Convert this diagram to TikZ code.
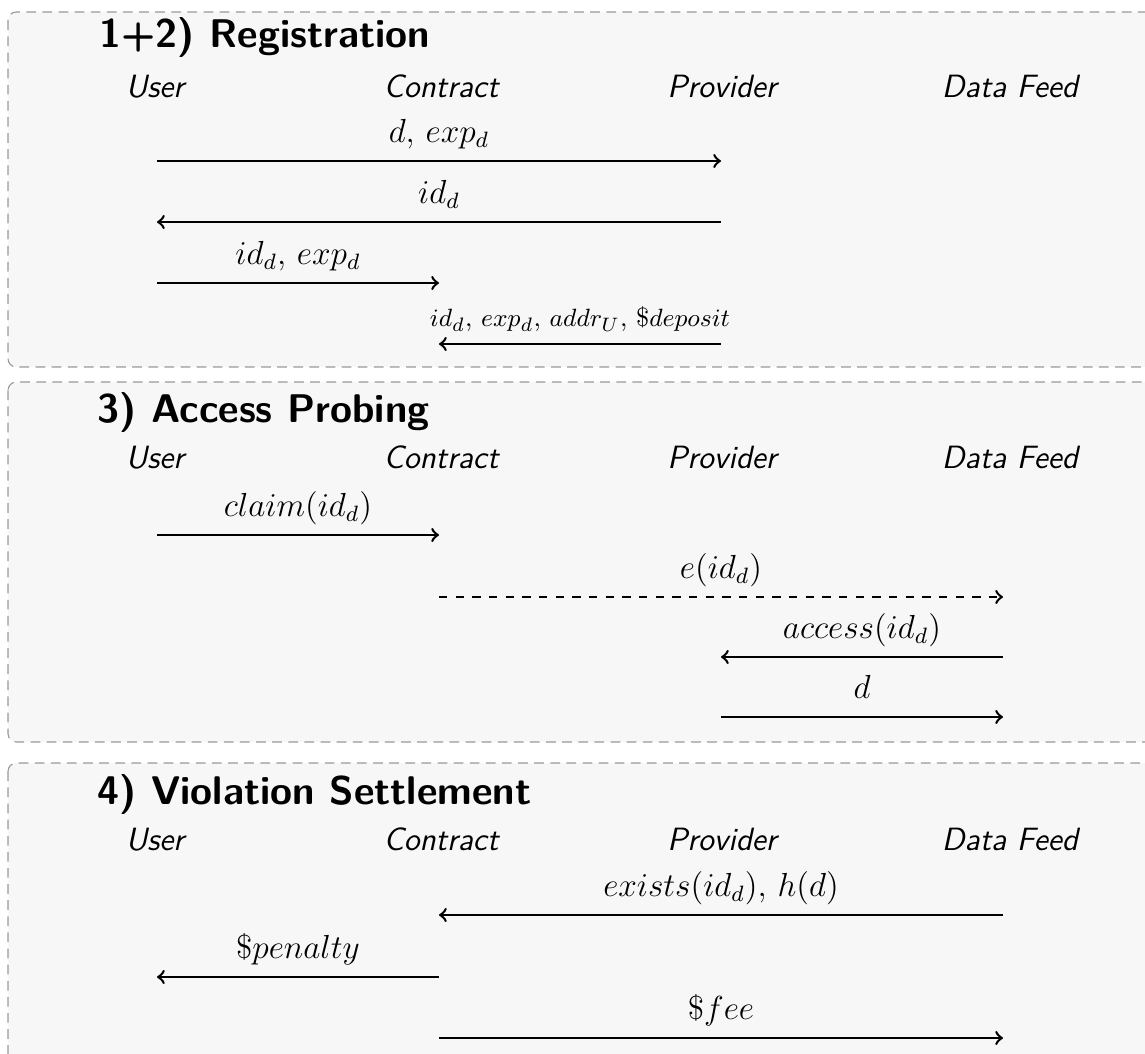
\documentclass[tikz,border=0pt]{standalone}
\begin{document}
\begin{tikzpicture}[x=0.36pt,y=-0.36pt,
  panel/.style={draw=black!40, fill=black!3, line width=0.4pt,
    dash pattern=on 3.5pt off 2.3pt, rounded corners=3pt},
  title/.style={anchor=base west, inner sep=0pt, font=\sffamily\bfseries\Large},
  actor/.style={anchor=base, inner sep=0pt, font=\sffamily\itshape\fontsize{11.6}{14}\selectfont},
  msg/.style={->, line width=0.9pt},
  lbl/.style={midway, anchor=base, inner sep=0pt, yshift=6.5pt, font=\large}]
\clip (0,0) rectangle (1145,1054);
\useasboundingbox (0,0) rectangle (1145,1054);

% lifeline positions of the four parties
\coordinate (LU) at (157,0);
\coordinate (LC) at (439,0);
\coordinate (LP) at (721,0);
\coordinate (LD) at (1003,0);

% ---------- 1+2) Registration ----------
\draw[panel] (8,12) rectangle (1175,367);
\node[title] (t1) at (99,48) {1+2) Registration};
\node[actor] (u1) at (155,98) {User};
\node[actor] (c1) at (441,98) {Contract};
\node[actor] (p1) at (722,98) {Provider};
\node[actor] (d1) at (1010,98) {Data Feed};
\draw[msg] (LU |- 0,161) -- (LP |- 0,161) node[lbl] {$d$, $exp_d$};
\draw[msg] (LP |- 0,222) -- (LU |- 0,222) node[lbl] {$id_d$};
\draw[msg] (LU |- 0,283) -- (LC |- 0,283) node[lbl] {$id_d$, $exp_d$};
\draw[msg] (LP |- 0,344) -- (LC |- 0,344)
  node[lbl, yshift=-0.3pt, font=\fontsize{9.5}{11}\selectfont] {$id_d$, $exp_d$, $addr_U$, \$$deposit$};

% ---------- 3) Access Probing ----------
\draw[panel] (8,382) rectangle (1175,742);
\node[title] (t2) at (97,423) {3) Access Probing};
\node[actor] (u2) at (155,469) {User};
\node[actor] (c2) at (441,469) {Contract};
\node[actor] (p2) at (722,469) {Provider};
\node[actor] (d2) at (1010,469) {Data Feed};
\draw[msg] (LU |- 0,535) -- (LC |- 0,535) node[lbl] {$claim(id_d)$};
\draw[msg, dashed] (LC |- 0,597) -- (LD |- 0,597) node[lbl] {$e(id_d)$};
\draw[msg] (LD |- 0,657) -- (LP |- 0,657) node[lbl] {$access(id_d)$};
\draw[msg] (LP |- 0,717) -- (LD |- 0,717) node[lbl] {$d$};

% ---------- 4) Violation Settlement ----------
\draw[panel] (8,763) rectangle (1175,1090);
\node[title] (t3) at (97,804) {4) Violation Settlement};
\node[actor] (u3) at (155,850) {User};
\node[actor] (c3) at (441,850) {Contract};
\node[actor] (p3) at (722,850) {Provider};
\node[actor] (d3) at (1010,850) {Data Feed};
\draw[msg] (LD |- 0,915) -- (LC |- 0,915) node[lbl] {$exists(id_d)$, $h(d)$};
\draw[msg] (LC |- 0,977) -- (LU |- 0,977) node[lbl] {\$$penalty$};
\draw[msg] (LC |- 0,1038) -- (LD |- 0,1038) node[lbl] {\$$fee$};
\end{tikzpicture}
\end{document}
